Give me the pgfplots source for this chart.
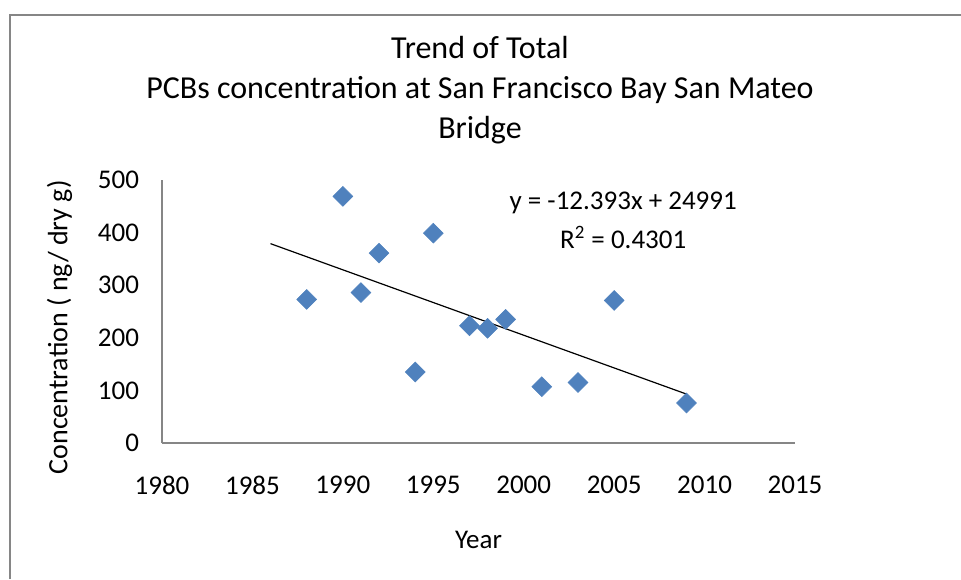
\documentclass[border=0pt]{standalone}
\usepackage{fontspec}
\setmainfont{Carlito}
\usepackage{pgfplots}
\pgfplotsset{compat=1.18}
\definecolor{excelblue}{RGB}{79,129,189}
\definecolor{axisgray}{RGB}{134,134,134}
\begin{document}
\begin{tikzpicture}
\useasboundingbox (0,0) rectangle (480.5pt,289.5pt);
\draw[axisgray, line width=0.9pt] (5pt,0) -- (5pt,282pt) -- (480.5pt,282pt);
\node[font=\fontsize{16}{18}\selectfont] at (240pt,265.5pt) {Trend of Total};
\node[font=\fontsize{16}{18}\selectfont] at (240pt,244.5pt) {PCBs concentration at San Francisco Bay San Mateo};
\node[font=\fontsize{16}{18}\selectfont] at (240pt,224.5pt) {Bridge};
\begin{axis}[
  at={(81pt,68pt)}, anchor=south west,
  scale only axis, width=316.5pt, height=131.5pt,
  xmin=1980, xmax=2015, ymin=0, ymax=500,
  xtick={1980,1985,...,2015}, ytick={0,100,...,500},
  axis x line=bottom, axis y line=left,
  axis line style={axisgray, line width=0.6pt, -},
  major tick length=0pt,
  tick label style={font=\fontsize{13.5}{16}\selectfont},
  /pgf/number format/assume math mode=true,
  /pgf/number format/1000 sep={},
  xticklabel style={yshift=-13pt},
  yticklabel style={xshift=-8pt},
  xlabel={Year}, ylabel={Concentration ( ng/ dry g)},
  xlabel style={font=\fontsize{13.5}{16}\selectfont, at={(axis description cs:0.5,-0.369)}, anchor=center},
  ylabel style={font=\fontsize{14}{16}\selectfont, at={(axis description cs:-0.162,0.44)}, anchor=center},
  clip=false,
]
\addplot[only marks, mark=square*, mark size=3.5pt, mark options={rotate=45, line width=0.3pt}, color=excelblue] coordinates {
(1988,273) (1990,469) (1991,286) (1992,361) (1994,135) (1995,399)
(1997,223) (1998,218) (1999,235) (2001,107) (2003,115) (2005,271) (2009,76)
};
\addplot[black, line width=0.6pt] coordinates {(1986,379) (2009,93)};
\node[align=center, font=\fontsize{13.5}{19.5}\selectfont] at (axis cs:2005.5,423) {y = -12.393x + 24991\\R\textsuperscript{2} = 0.4301};
\end{axis}
\end{tikzpicture}
\end{document}
